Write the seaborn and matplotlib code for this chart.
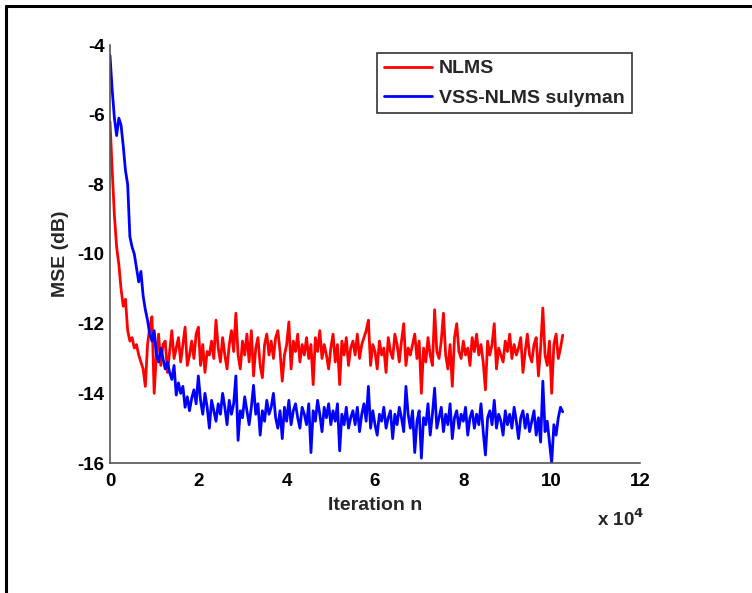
import numpy as np
import pandas as pd
import matplotlib
matplotlib.use("Agg")
import matplotlib.pyplot as plt
import seaborn as sns
from matplotlib.lines import Line2D

step = 500
nlms = [
    -6.2, -7.6, -8.9, -9.8, -10.3, -11.0, -11.5, -11.3, -12.2, -12.5,
    -12.4, -12.7, -12.6, -12.9, -13.1, -13.3, -13.8, -12.6, -12.1, -11.8,
    -14.0, -12.9, -12.3, -13.2, -12.6, -12.5, -13.4, -12.8, -12.2, -13.0,
    -12.7, -12.4, -13.1, -12.6, -12.1, -13.2, -12.9, -12.5, -13.0, -12.3,
    -12.1, -13.2, -12.6, -13.4, -12.8, -12.9, -12.5, -13.0, -11.9, -12.7,
    -13.1, -12.4, -12.9, -13.3, -12.6, -12.2, -12.8, -11.7, -12.9, -13.3,
    -12.5, -12.9, -12.3, -13.1, -12.2, -13.5, -12.7, -12.4, -13.2, -13.55,
    -12.6, -12.3, -12.9, -12.5, -13.0, -12.4, -12.2, -12.8, -13.65, -12.9,
    -12.6, -11.95, -13.3, -12.5, -12.8, -12.3, -13.1, -12.6, -12.9, -12.4,
    -13.0, -12.6, -13.75, -12.4, -12.8, -12.2, -13.0, -12.6, -12.9, -13.3,
    -12.7, -12.3, -13.1, -12.6, -13.75, -12.5, -12.9, -12.4, -13.2, -12.7,
    -12.5, -12.9, -12.3, -13.0, -12.6, -12.4, -12.2, -11.9, -13.2, -12.6,
    -12.8, -13.3, -12.5, -12.9, -12.7, -13.4, -12.4, -12.8, -13.0, -12.3,
    -12.6, -13.1, -12.5, -12.0, -13.2, -12.7, -12.9, -12.6, -12.3, -13.0,
    -12.5, -14.0, -12.7, -13.1, -12.4, -12.9, -13.2, -11.6, -12.8, -13.0,
    -12.5, -11.7, -12.9, -13.3, -12.6, -13.8, -12.4, -12.0, -12.8, -13.0,
    -12.5, -12.9, -12.7, -13.2, -12.4, -12.8, -12.3, -12.9, -12.6, -13.1,
    -13.9, -12.5, -12.9, -12.6, -12.0, -13.3, -12.7, -12.9, -13.1, -12.5,
    -12.8, -12.3, -13.0, -12.6, -12.9, -12.7, -12.4, -13.4, -12.8, -12.3,
    -12.9, -13.1, -12.6, -12.4, -13.5, -12.7, -11.55, -12.9, -13.2, -12.5,
    -14.0, -12.6, -12.3, -13.0, -12.7, -12.33,
]
vss = [
    -4.3, -5.3, -6.1, -6.6, -6.1, -6.3, -6.9, -7.6, -8.0, -9.5,
    -9.8, -10.0, -10.4, -10.8, -10.5, -11.2, -11.6, -11.9, -12.3, -12.5,
    -12.2, -12.9, -13.1, -12.7, -13.0, -13.3, -13.1, -13.4, -13.6, -13.2,
    -14.05, -13.7, -14.0, -13.8, -14.4, -14.1, -14.5, -14.14, -13.9, -14.3,
    -13.5, -14.2, -14.6, -14.0, -14.4, -15.0, -14.2, -14.5, -14.8, -14.3,
    -14.6, -14.0, -14.4, -14.9, -14.2, -14.6, -14.3, -13.5, -15.35, -14.5,
    -14.7, -14.1, -14.5, -14.9, -14.4, -13.77, -14.6, -14.3, -15.2, -14.5,
    -14.8, -14.2, -14.6, -14.4, -14.0, -14.7, -15.0, -14.5, -15.3, -14.4,
    -14.8, -14.2, -14.9, -14.5, -14.3, -14.7, -15.0, -14.4, -14.6, -14.9,
    -14.3, -15.7, -14.5, -14.8, -14.2, -14.6, -15.1, -14.4, -14.7, -14.3,
    -14.9, -14.5, -14.8, -14.3, -15.65, -14.6, -14.9, -14.4, -15.0, -14.7,
    -14.5, -14.9, -14.4, -15.1, -14.6, -14.3, -14.8, -13.8, -15.0, -14.5,
    -14.9, -15.2, -14.6, -14.8, -14.4, -15.0, -14.7, -14.5, -15.3, -14.6,
    -14.9, -14.4, -14.7, -15.1, -13.8, -14.6, -15.0, -14.5, -15.7, -14.8,
    -14.5, -15.86, -14.7, -14.9, -14.3, -15.2, -14.6, -13.85, -15.0, -14.7,
    -14.4, -15.1, -14.6, -14.9, -14.3, -15.3, -14.7, -14.5, -15.0, -14.6,
    -14.8, -14.4, -15.2, -14.7, -14.5, -15.0, -14.6, -14.9, -14.3, -15.1,
    -15.77, -14.7, -14.5, -14.9, -14.2, -15.0, -14.6, -14.8, -15.2, -14.5,
    -14.9, -14.6, -15.0, -14.4, -14.8, -15.3, -14.7, -14.5, -15.0, -14.6,
    -15.1, -14.8, -14.5, -15.2, -14.7, -15.4, -13.65, -15.1, -14.8, -15.4,
    -16.0, -14.9, -15.2, -14.7, -14.4, -14.53,
]
series_names = ["NLMS", "VSS-NLMS sulyman"]
series_colors = ["#ff0000", "#0000ff"]
xticks = [0, 20000, 40000, 60000, 80000, 100000, 120000]
xticklabels = ["0", "2", "4", "6", "8", "10", "12"]
yticks = [-16, -14, -12, -10, -8, -6, -4]

n = np.arange(len(nlms)) * step
df = pd.concat([
    pd.DataFrame({"n": n, "mse": nlms, "alg": series_names[0]}),
    pd.DataFrame({"n": np.arange(len(vss)) * step, "mse": vss, "alg": series_names[1]}),
])

sns.set_style("white")
plt.rcParams['font.family'] = ['Liberation Sans', 'DejaVu Sans']
plt.rcParams['font.weight'] = 'bold'

fig = plt.figure(figsize=(7.52, 5.93), dpi=100)
ax = fig.add_axes([110/752, 1-463/593, 530/752, 418/593])

sns.lineplot(data=df, x="n", y="mse", hue="alg", palette=series_colors,
             linewidth=2.0, ax=ax, legend=False, estimator=None)

ax.set_xlim(0, 120000)
ax.set_ylim(-16, -4)
ax.set_xticks(xticks)
ax.set_xticklabels(xticklabels)
ax.set_yticks(yticks)
ax.set_yticklabels([str(v) for v in yticks])
for s in ["top", "right"]:
    ax.spines[s].set_visible(False)
for s in ["left", "bottom"]:
    ax.spines[s].set_color("#555555")
    ax.spines[s].set_linewidth(1.2)
ax.tick_params(direction="in", length=4, width=1, colors="#333333",
               labelcolor="black", labelsize=13.5, pad=4)
ax.tick_params(axis="x", pad=7)
for lab in ax.get_xticklabels() + ax.get_yticklabels():
    lab.set_fontweight("bold")

ax.set_xlabel("Iteration n", fontsize=14, fontweight="bold", labelpad=5)
ax.set_ylabel("MSE (dB)", fontsize=14, fontweight="bold", labelpad=6)
fig.text(597/752, 1-519/593, r"x 10$^{\mathbf{4}}$", fontsize=13.5, fontweight="bold",
         ha="left", va="center")

handles = [Line2D([0], [0], color=c, lw=2) for c in series_colors]
leg = ax.legend(handles, series_names, loc="upper left",
                bbox_to_anchor=((377-110)/530, (463-53)/418),
                frameon=True, fancybox=False, prop={"weight": "bold", "size": 14},
                handlelength=2.5, borderpad=0.35, labelspacing=0.6,
                handletextpad=0.35, borderaxespad=0)
leg.get_frame().set_edgecolor("black")
leg.get_frame().set_linewidth(1.2)

# figure border (left and top visible)
fig.add_artist(Line2D([6/752, 6/752], [0, 1-6/593], color="black", lw=2.2,
                      transform=fig.transFigure))
fig.add_artist(Line2D([6/752, 1], [1-6/593, 1-6/593], color="black", lw=2.2,
                      transform=fig.transFigure))

fig.savefig("out.png", dpi=100)
